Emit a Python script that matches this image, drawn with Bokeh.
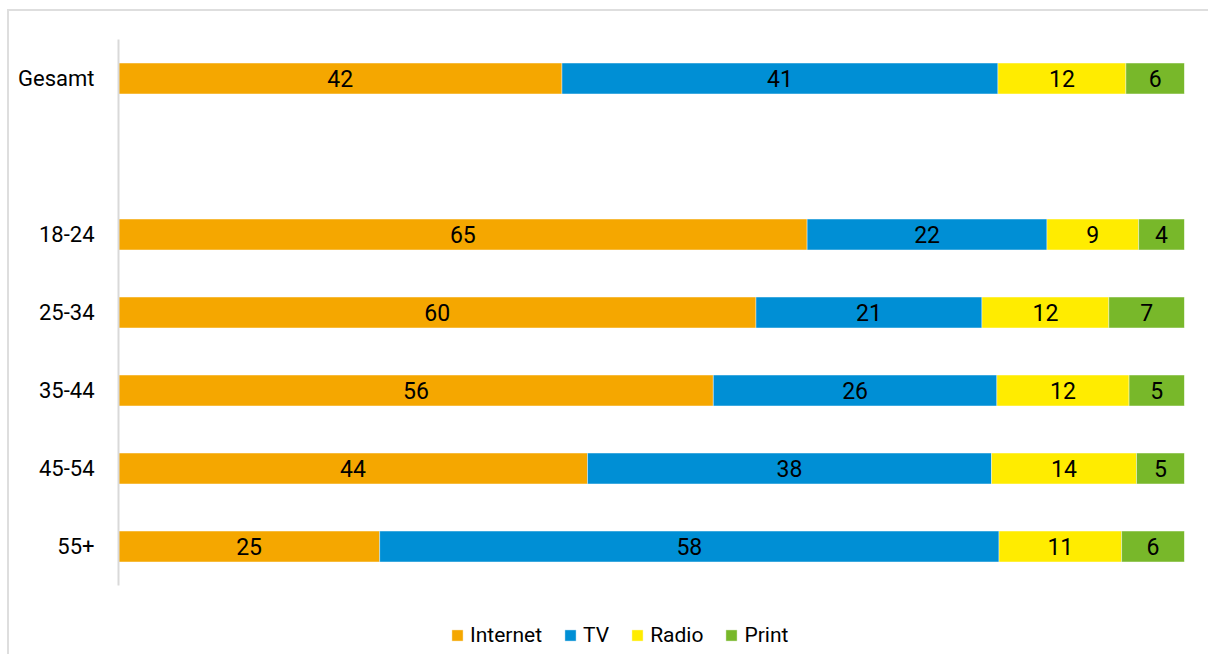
import numpy as np
from bokeh.plotting import figure
from bokeh.models import ColumnDataSource, Range1d, Legend, LegendItem, FixedTicker
from bokeh.core.properties import value
from bokeh.embed import file_html
from bokeh.resources import INLINE

# ---- data ----
groups = ["Gesamt", "18-24", "25-34", "35-44", "45-54", "55+"]
# printed (rounded) labels
internet_lab = [42, 65, 60, 56, 44, 25]
tv_lab = [41, 22, 21, 26, 38, 58]
radio_lab = [12, 9, 12, 12, 14, 11]
print_lab = [6, 4, 7, 5, 5, 6]
# bar lengths (share in %)
internet = [41.6, 64.6, 59.8, 55.8, 44.0, 24.5]
tv = [40.9, 22.5, 21.2, 26.6, 37.9, 58.1]
radio = [12.0, 8.6, 11.9, 12.4, 13.6, 11.5]
printed = [5.5, 4.3, 7.1, 5.2, 4.5, 5.9]
series_names = ["Internet", "TV", "Radio", "Print"]
colors = ["#F5A700", "#008FD5", "#FFEC00", "#78B82A"]
# category slots from bottom to top (one empty slot between the age groups and "Gesamt")
slots = ["55+", "45-54", "35-44", "25-34", "18-24", "", "Gesamt"]

FONT = "Roboto, sans-serif"

pos = {name: i + 0.5 for i, name in enumerate(slots)}
ypos = [pos[g] for g in groups]
n_slots = len(slots)

p = figure(width=1201, height=645, y_range=Range1d(-0.91, n_slots),
           x_range=Range1d(0, 100), output_backend="svg", toolbar_location=None,
           min_border_left=109, min_border_right=26, min_border_top=28, min_border_bottom=0)
p.styles = {"border-left": "2px solid #dedede", "border-top": "2px solid #dedede",
            "margin-left": "7px", "margin-top": "9px"}
p.outline_line_color = None
p.xgrid.visible = False
p.ygrid.visible = False
p.xaxis.visible = False
p.yaxis.bounds = (0, n_slots)
p.yaxis.ticker = FixedTicker(ticks=[pos[g] for g in groups])
p.yaxis.major_label_overrides = {pos[g]: g for g in groups}
p.yaxis.axis_line_color = "#d9d9d9"
p.yaxis.axis_line_width = 2
p.yaxis.major_tick_line_color = None
p.yaxis.minor_tick_line_color = None
p.yaxis.major_label_standoff = 18
p.yaxis.major_label_text_font = FONT
p.yaxis.major_label_text_font_size = "22px"
p.yaxis.major_label_text_color = "#000000"

vals = np.array([internet, tv, radio, printed], dtype=float)
labs = [internet_lab, tv_lab, radio_lab, print_lab]
totals = vals.sum(axis=0)
norm = vals / totals * 100
cum = np.cumsum(norm, axis=0)
lefts = cum - norm

renderers = []
for i, name in enumerate(series_names):
    src = ColumnDataSource(dict(y=ypos, left=lefts[i], right=cum[i],
                                mid=(lefts[i] + cum[i]) / 2,
                                lab=[str(v) for v in labs[i]]))
    r = p.hbar(y="y", left="left", right="right", height=0.395, source=src,
               fill_color=colors[i], line_color="white", line_alpha=0.4, line_width=1)
    renderers.append(r)
    p.text(x="mid", y="y", text="lab", source=src, text_align="center",
           text_baseline="middle", text_font=value(FONT), text_font_size="23px",
           text_color="#000000")

legend = Legend(items=[LegendItem(label=n, renderers=[r]) for n, r in zip(series_names, renderers)],
                orientation="horizontal", location=(332, 9))
legend.border_line_color = None
legend.background_fill_alpha = 0
legend.padding = 0
legend.margin = 0
legend.spacing = 21
legend.label_standoff = 6
legend.glyph_width = 14
legend.glyph_height = 14
legend.label_text_font = FONT
legend.label_text_font_size = "21px"
legend.label_text_color = "#000000"
p.add_layout(legend, "center")

open("out.html", "w").write(file_html(p, INLINE))
